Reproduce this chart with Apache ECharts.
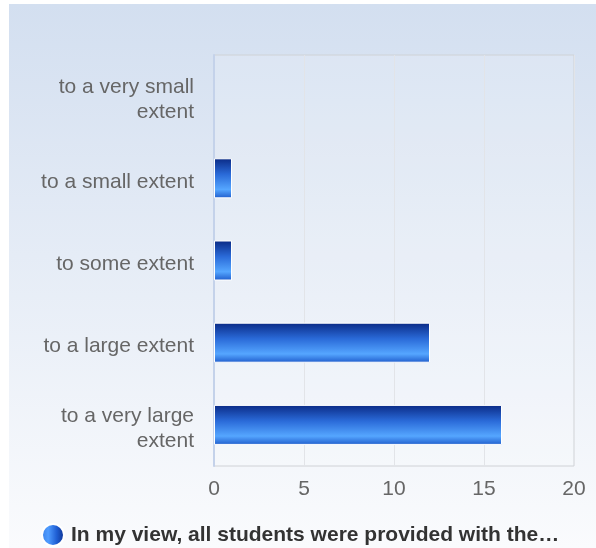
<!DOCTYPE html>
<html><head><meta charset="utf-8">
<script src="https://cdn.jsdelivr.net/npm/echarts@6/dist/echarts.min.js"></script>
<style>html,body{margin:0;padding:0;background:#fff}#c{width:596px;height:548px}</style>
</head><body><div id="c"></div>
<script>
const categories = ["to a very small extent","to a small extent","to some extent","to a large extent","to a very large extent"];
const values = [0, 1, 1, 12, 16];
const seriesName = "In my view, all students were provided with the…";
const xTicks = [0, 5, 10, 15, 20];

const chart = echarts.init(document.getElementById('c'));
const barGrad = new echarts.graphic.LinearGradient(0,0,0,1,[
  {offset:0,color:'#0a2a85'},{offset:0.4,color:'#2a6ad8'},{offset:0.78,color:'#55a6ff'},{offset:1,color:'#1f5ccc'}]);
const legGrad = new echarts.graphic.LinearGradient(0,0,1,0,[
  {offset:0,color:'#3a7fe6'},{offset:0.3,color:'#4f9cff'},{offset:0.65,color:'#1f5fd4'},{offset:1,color:'#0b2e8c'}]);
const FONT = 'Liberation Sans, Arial';
chart.setOption({
  animation:false,
  graphic:[{type:'rect',z:-10,silent:true,shape:{x:9,y:4,width:587,height:544},
    style:{fill:new echarts.graphic.LinearGradient(0,0,0,1,[{offset:0,color:'#d3dff0'},{offset:1,color:'#fafbfd'}])}}],
  grid:{left:214,right:22,top:55,bottom:82,show:true,backgroundColor:'rgba(255,255,255,0.15)',borderColor:'#cfd2d6',borderWidth:1},
  legend:{left:36,top:518,icon:'circle',itemWidth:22,itemHeight:22,itemGap:8,
    textStyle:{fontFamily:FONT,fontSize:21,fontWeight:'bold',color:'#333',padding:[0,0,0,2]},
    data:[{name:seriesName,itemStyle:{color:legGrad}}]},
  xAxis:{type:'value',min:xTicks[0],max:xTicks[xTicks.length-1],interval:5,
    axisLine:{show:false},axisTick:{show:false},
    splitLine:{lineStyle:{color:'#e2e4e8'}},
    axisLabel:{fontFamily:FONT,fontSize:21,color:'#666',margin:13}},
  yAxis:{type:'category',inverse:true,data:categories,
    axisLine:{show:true,lineStyle:{color:'#c4d2ea',width:2}},axisTick:{show:false},
    axisLabel:{fontFamily:FONT,fontSize:21,color:'#666',margin:20,align:'right',
      rich:{a:{fontFamily:FONT,fontSize:21,color:'#666',lineHeight:25,padding:[8,0,0,0],align:'right'}},
      formatter:v=>(v.length>18?v.replace(/ (\S+)$/,'\n$1'):v).split('\n').map(l=>'{a|'+l+'}').join('\n')}},
  series:[{name:seriesName,type:'bar',barWidth:40,
    data:values.map(v=>({value:v,itemStyle:{borderWidth:v?1:0}})),
    itemStyle:{color:barGrad,borderColor:'#ffffff',borderWidth:1}}]
});
</script></body></html>
